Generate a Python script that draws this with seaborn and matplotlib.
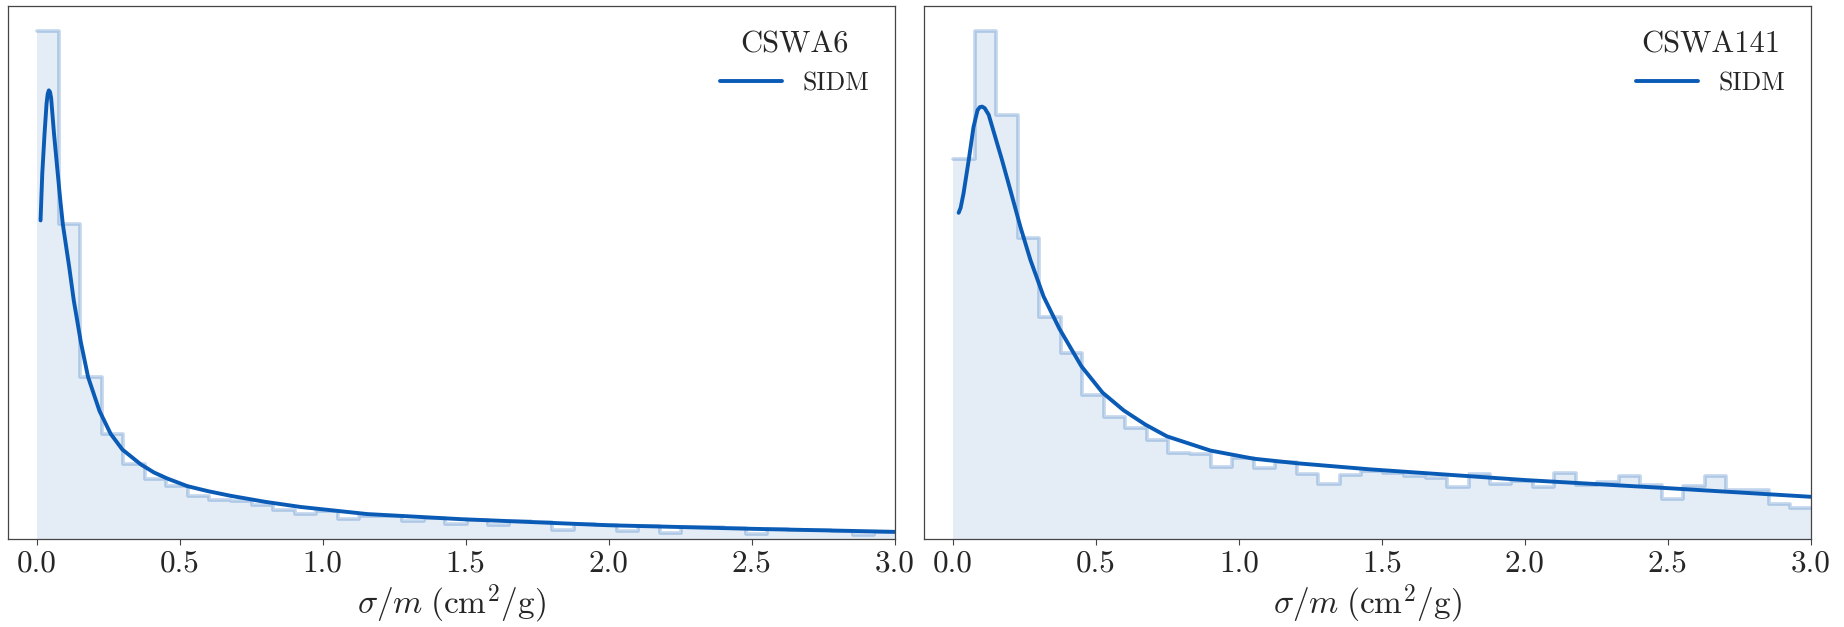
import numpy as np
import pandas as pd
import matplotlib
matplotlib.use("Agg")
import matplotlib.pyplot as plt
import seaborn as sns

# ---------------- data ----------------
bin_edges = list(np.linspace(0.003, 3.003, 41))

hist_cswa6 = [1.000, 0.619, 0.319, 0.207, 0.147, 0.119, 0.104, 0.085, 0.077, 0.074,
              0.066, 0.058, 0.049, 0.055, 0.039, 0.045, 0.045, 0.035, 0.042, 0.030,
              0.038, 0.027, 0.035, 0.033, 0.0175, 0.030, 0.028, 0.015, 0.026, 0.012,
              0.024, 0.023, 0.022, 0.009, 0.019, 0.018, 0.017, 0.016, 0.007, 0.013]

hist_cswa141 = [0.747, 1.000, 0.834, 0.593, 0.437, 0.366, 0.283, 0.240, 0.219, 0.195,
                0.170, 0.168, 0.142, 0.159, 0.139, 0.152, 0.128, 0.109, 0.125, 0.133,
                0.130, 0.123, 0.120, 0.102, 0.128, 0.109, 0.114, 0.102, 0.130, 0.107,
                0.112, 0.124, 0.107, 0.079, 0.104, 0.124, 0.097, 0.097, 0.069, 0.060]

curve_x_cswa6 = [0.014, 0.020, 0.028, 0.035, 0.039, 0.043, 0.047, 0.051, 0.061, 0.072,
                 0.083, 0.092, 0.114, 0.130, 0.155, 0.180, 0.220, 0.259, 0.300, 0.364,
                 0.410, 0.457, 0.527, 0.600, 0.678, 0.800, 0.923, 1.156, 1.483, 2.000,
                 2.500, 3.000]
curve_y_cswa6 = [0.627, 0.719, 0.798, 0.857, 0.876, 0.883, 0.880, 0.868, 0.798, 0.732,
                 0.667, 0.619, 0.536, 0.470, 0.387, 0.319, 0.252, 0.207, 0.176, 0.147,
                 0.131, 0.119, 0.104, 0.094, 0.085, 0.073, 0.063, 0.049, 0.039, 0.027,
                 0.020, 0.014]

curve_x_cswa141 = [0.021, 0.028, 0.038, 0.056, 0.073, 0.087, 0.095, 0.103, 0.112, 0.126,
                   0.149, 0.173, 0.202, 0.237, 0.272, 0.318, 0.373, 0.450, 0.524, 0.598,
                   0.674, 0.749, 0.901, 1.052, 1.204, 1.460, 2.000, 2.500, 3.000]
curve_y_cswa141 = [0.642, 0.652, 0.680, 0.745, 0.811, 0.844, 0.850, 0.851, 0.848, 0.835,
                   0.791, 0.745, 0.686, 0.614, 0.549, 0.477, 0.414, 0.340, 0.288, 0.253,
                   0.225, 0.202, 0.174, 0.158, 0.149, 0.137, 0.116, 0.100, 0.083]

panel_titles = ["CSWA6", "CSWA141"]
line_label = "SIDM"
xticks = [0.0, 0.5, 1.0, 1.5, 2.0, 2.5, 3.0]
xlabel = r"$\sigma/m\;(\mathrm{cm}^2/\mathrm{g})$"

# ---------------- style ----------------
sns.set_style("ticks")
plt.rcParams["font.family"] = "serif"
plt.rcParams["font.serif"] = ["cmr10", "DejaVu Serif"]
plt.rcParams["mathtext.fontset"] = "cm"
plt.rcParams["axes.formatter.use_mathtext"] = True
plt.rcParams["axes.unicode_minus"] = False

line_color = "#0a5bb5"

fig = plt.figure(figsize=(18.44, 6.27), dpi=100)
ax1 = fig.add_axes([0.0043, 0.1404, 0.4810, 0.8508])
ax2 = fig.add_axes([0.5011, 0.1404, 0.4810, 0.8508])

panels = [
    (ax1, hist_cswa6, curve_x_cswa6, curve_y_cswa6, panel_titles[0]),
    (ax2, hist_cswa141, curve_x_cswa141, curve_y_cswa141, panel_titles[1]),
]

centers = [0.5 * (bin_edges[i] + bin_edges[i + 1]) for i in range(len(bin_edges) - 1)]

for ax, hvals, cx, cy, title in panels:
    hdf = pd.DataFrame({"x": centers, "w": hvals})
    sns.histplot(data=hdf, x="x", weights="w", bins=bin_edges, element="step",
                 fill=True, color=line_color, alpha=0.11, linewidth=0, ax=ax)
    sns.histplot(data=hdf, x="x", weights="w", bins=bin_edges, element="step",
                 fill=False, color=line_color, alpha=0.25, linewidth=2.6, ax=ax)
    cdf = pd.DataFrame({"x": cx, "y": cy})
    sns.lineplot(data=cdf, x="x", y="y", color=line_color, linewidth=2.8,
                 label=line_label, ax=ax, sort=False)
    ax.set_xlim(-0.1, 3.0)
    ax.set_ylim(0, 1.05)
    ax.set_yticks([])
    ax.set_ylabel("")
    ax.set_xticks(xticks)
    ax.set_xticklabels([f"{t:.1f}" for t in xticks])
    ax.tick_params(axis="x", labelsize=22.5, length=4, width=0.8, color="#444444")
    ax.set_xlabel(xlabel, fontsize=24)
    for sp in ax.spines.values():
        sp.set_visible(True)
        sp.set_linewidth(0.9)
        sp.set_color("#444444")
    leg = ax.legend(title=title, loc="upper right", frameon=False, fontsize=18.5,
                    title_fontsize=22, handlelength=2.4, handletextpad=0.8,
                    borderaxespad=0.6)

fig.savefig("out.png", dpi=100)
